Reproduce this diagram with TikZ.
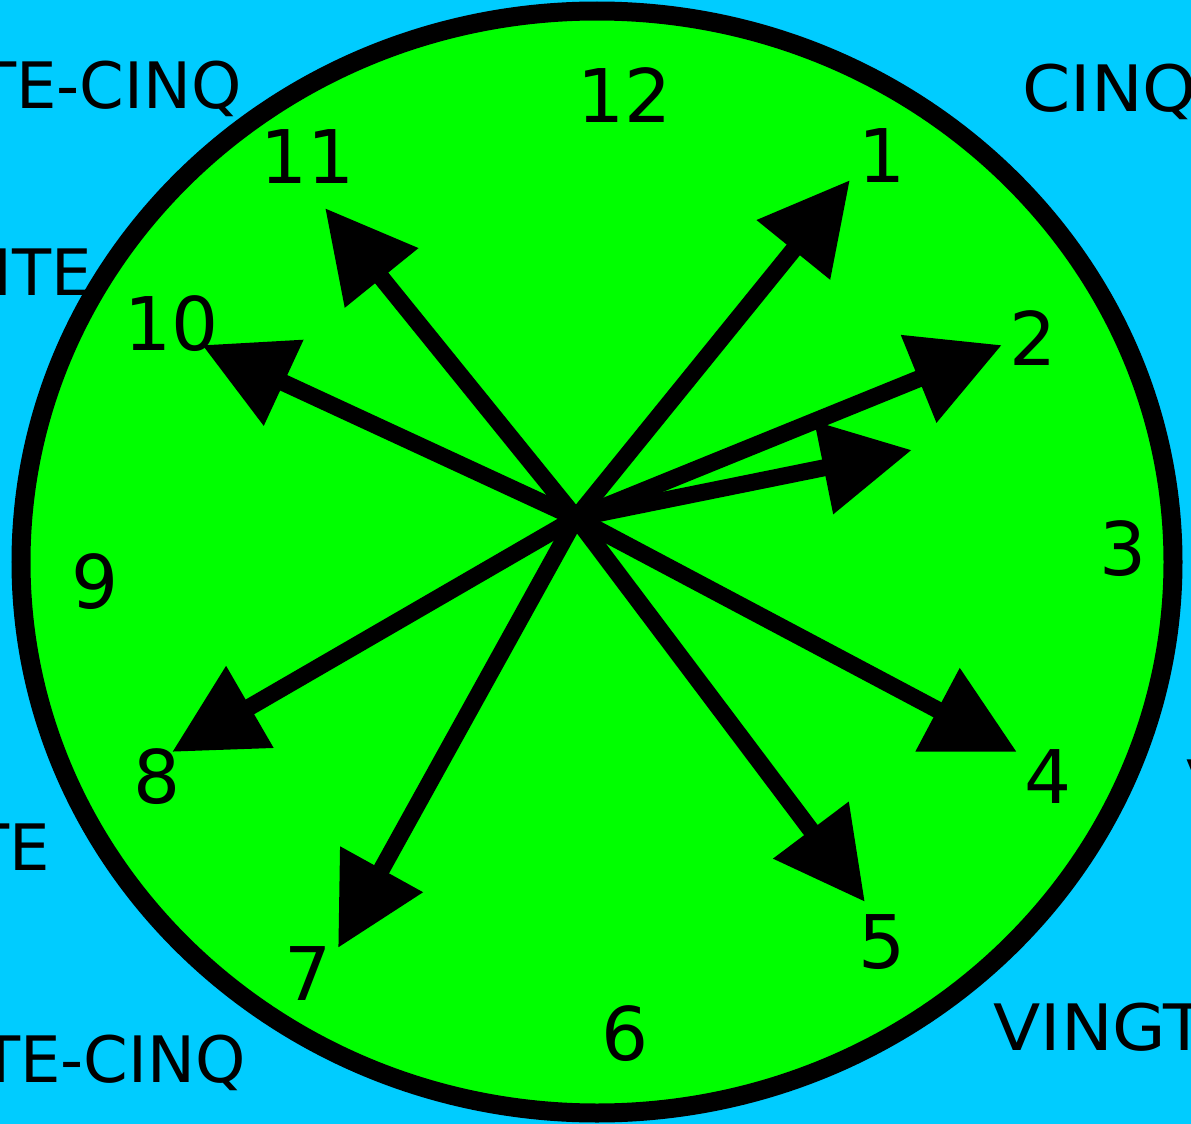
\documentclass[tikz,border=0pt]{standalone}
\usepackage{fontspec}
\setmainfont{DejaVu Sans}
\usetikzlibrary{arrows.meta,shapes.geometric}
\definecolor{ckSky} {RGB}{  0,204,255}
\definecolor{ckFace}{RGB}{  0,255,  0}

\begin{document}
\begin{tikzpicture}[
  x=0.5pt,y=-0.5pt,
  face/.style={ellipse,draw=black,line width=9.5pt,fill=ckFace,
               minimum width=576pt,minimum height=551pt,inner sep=0pt},
  hour/.style={font=\fontsize{37}{37}\selectfont,anchor=base,inner sep=0pt},
  word/.style={font=\fontsize{32}{32}\selectfont,inner sep=0pt},
  wide/.style={word,xscale=1.08},
  hand/.style={line width=8.5pt,-{Triangle[length=45pt,width=45pt]}}
]
\useasboundingbox (0,0) rectangle (1191,1124);
\clip (0,0) rectangle (1191,1124);
\fill[ckSky] (0,0) rectangle (1191,1124);

% --- minute words round the dial
\node[word,anchor=base east] (wTL) at (242,108)  {TE-CINQ};
\node[wide,anchor=base west] (wTR) at (1022,112) {CINQ};
\node[word,anchor=base east] (wL)  at (92,295)   {NTE};
\node[word,anchor=base east] (wLL) at (50,870)   {TE};
\node[word,anchor=base east] (wBL) at (246,1082) {TE-CINQ};
\node[wide,anchor=base west] (wBR) at (993,1050) {VINGT};
\node[wide,anchor=base west] (wR)  at (1186,806) {VINGT};

% --- dial
\node[face] (dial) at (597,562) {};

% --- hour numbers
\foreach \h/\x/\y in {12/625/122, 1/882/182, 2/1033/365, 3/1123/575,
                      4/1048/803, 5/882/968, 6/625/1060, 7/308/1000,
                      8/157/803, 9/95/608, 10/172/350, 11/308/183}
  \node[hour] (n\h) at (\x,\y) {\h};

% --- hands
\coordinate (hub) at (576,518);
\foreach \t/\x/\y in {1/850/180, 2/1002/345, 3/912/450, 4/1017/752,
                      5/865/902, 7/338/948, 8/172/752, 10/202/345,
                      11/325/208}
{
  \coordinate (tip\t) at (\x,\y);
  \draw[hand] (hub) -- (tip\t);
}
\end{tikzpicture}
\end{document}
